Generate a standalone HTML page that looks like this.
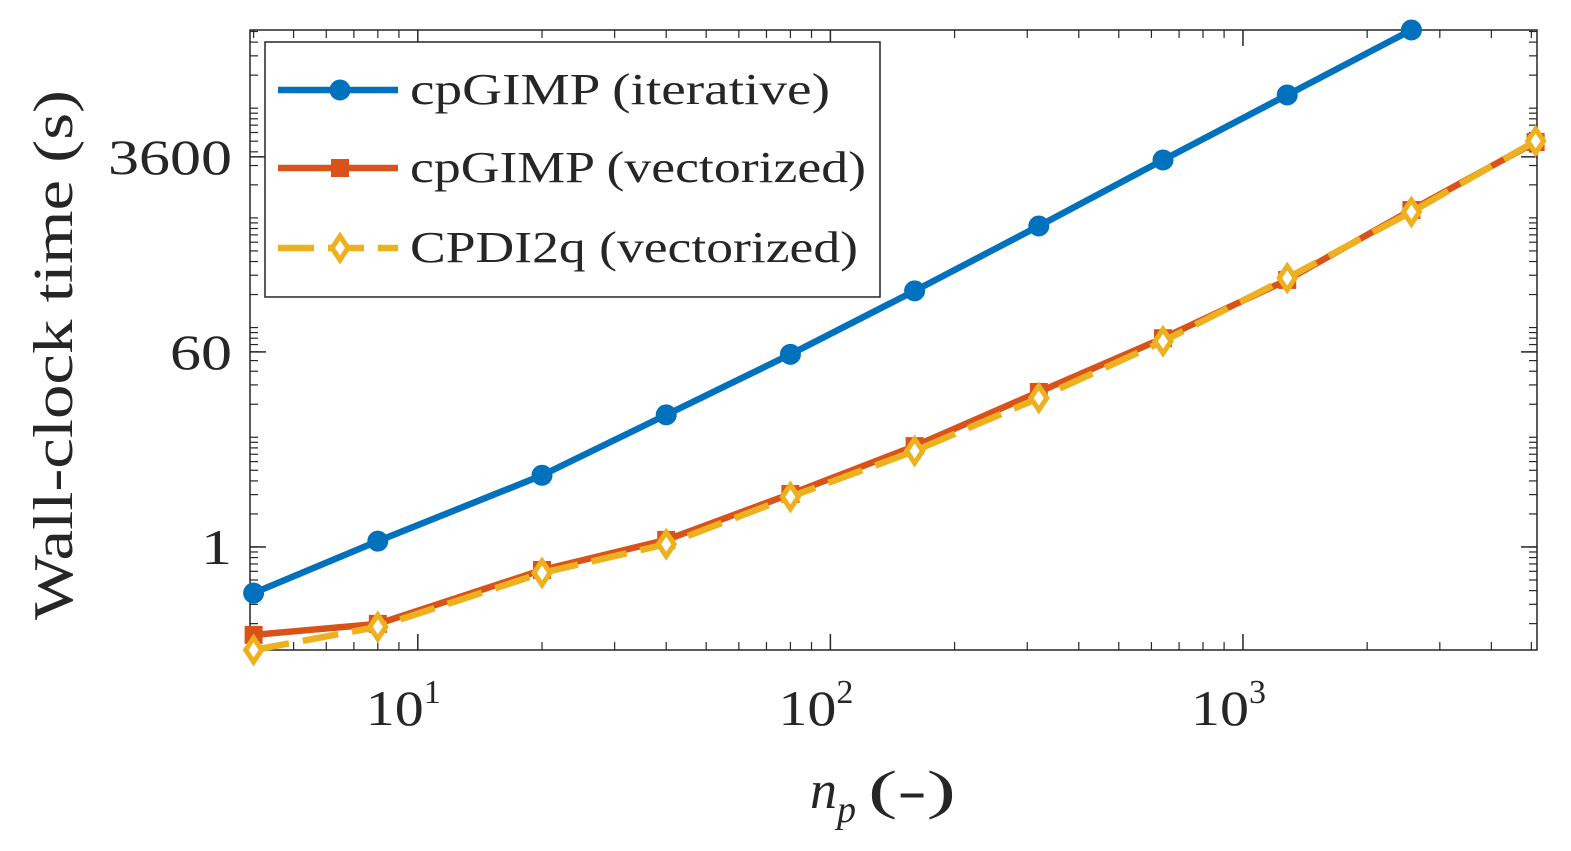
<!DOCTYPE html>
<html><head><meta charset="utf-8"><style>
body{margin:0;background:#fff}
svg text{font-family:"Liberation Serif",serif;fill:#262626}
</style></head><body>
<svg id="chart" width="1571" height="846" xmlns="http://www.w3.org/2000/svg"></svg>
<script>
const npValues=[4,8,20,40,80,160,320,640,1280,2560,5120];
const iterTimes=[0.38,1.13,4.5,16,57,216,843,3370,13200,51600];
const vecTimes=[0.158,0.199,0.617,1.16,3.04,8.3,25.9,80,272,1180,4920];
const cpdiTimes=[0.115,0.187,0.58,1.06,2.86,7.5,22.8,75,283,1132,5020];
const xTickVals=[10,100,1000];
const xTickLabels=["1","2","3"];
const yTickVals=[1,60,3600];
const yTickLabels=["1","60","3600"];
const NS="http://www.w3.org/2000/svg";
const svg=document.getElementById('chart');
const L=250,R=1537,T=30,B=650;
const xmin=Math.log10(3.92),xmax=Math.log10(5160);
const ymin=Math.log10(0.115),ymax=Math.log10(51600);
const X=v=>L+(Math.log10(v)-xmin)/(xmax-xmin)*(R-L);
const Y=v=>B-(Math.log10(v)-ymin)/(ymax-ymin)*(B-T);
function el(tag,attrs,parent){const e=document.createElementNS(NS,tag);for(const k in attrs)e.setAttribute(k,attrs[k]);(parent||svg).appendChild(e);return e;}
const box=el('rect',{x:L,y:T,width:R-L,height:B-T,fill:'none',stroke:'#262626','stroke-width':1.5});


for(let p=0;p<=4;p++){for(let m=2;m<=9;m++){const v=m*Math.pow(10,p);if(v<3.92||v>5160)continue;const x=X(v);
el('line',{x1:x,x2:x,y1:B,y2:B-8,stroke:'#262626','stroke-width':1.2});el('line',{x1:x,x2:x,y1:T,y2:T+8,stroke:'#262626','stroke-width':1.2});}}
for(let p=-1;p<=4;p++){for(let m=1;m<=9;m++){const v=m*Math.pow(10,p);if(v<0.115||v>51600)continue;const y=Y(v);
el('line',{x1:L,x2:L+8,y1:y,y2:y,stroke:'#262626','stroke-width':1.2});el('line',{x1:R,x2:R-8,y1:y,y2:y,stroke:'#262626','stroke-width':1.2});}}
xTickVals.forEach((v,i)=>{const x=X(v);
el('line',{x1:x,x2:x,y1:B,y2:B-16,stroke:'#262626','stroke-width':1.5});el('line',{x1:x,x2:x,y1:T,y2:T+16,stroke:'#262626','stroke-width':1.5});
const t=el('text',{x:x-52,y:725,'font-size':50});
const a=el('tspan',{textLength:58,lengthAdjust:'spacingAndGlyphs'},t);a.textContent='10';
const s=el('tspan',{dy:-22,'font-size':34},t);s.textContent=xTickLabels[i];

});
yTickVals.forEach((v,i)=>{const y=Y(v);
el('line',{x1:L,x2:L+16,y1:y,y2:y,stroke:'#262626','stroke-width':1.5});el('line',{x1:R,x2:R-16,y1:y,y2:y,stroke:'#262626','stroke-width':1.5});
const len=yTickLabels[i].length*31;
const t=el('text',{x:232-len,y:y+17,'font-size':50,textLength:len,lengthAdjust:'spacingAndGlyphs'});t.textContent=yTickLabels[i];

});
const xl=el('text',{x:810,y:808,'font-size':54});xl.innerHTML='<tspan font-style="italic">n</tspan><tspan font-style="italic" font-size="38" dy="14">p</tspan><tspan dy="-14" dx="12" textLength="88" lengthAdjust="spacingAndGlyphs">(-)</tspan>';


const yl=el('text',{x:-620,y:72,'font-size':56,transform:'rotate(-90)',textLength:530,lengthAdjust:'spacingAndGlyphs'});yl.textContent='Wall-clock time (s)';


function series(vals,color,dash,marker,name){
const g=el('g',{});


const pts=vals.map((v,i)=>X(npValues[i])+','+Y(v)).join(' ');
el('polyline',{points:pts,fill:'none',stroke:color,'stroke-width':6.5,'stroke-dasharray':dash||'none'},g);
vals.forEach((v,i)=>drawMarker(g,X(npValues[i]),Y(v),color,marker));}
function drawMarker(g,x,y,color,marker){let m;
if(marker==='o')m=el('circle',{cx:x,cy:y,r:9,fill:color,stroke:color,'stroke-width':3},g);
else if(marker==='s')m=el('rect',{x:x-9,y:y-9,width:18,height:18,fill:color},g);
else m=el('polygon',{points:`${x},${y-12} ${x+8},${y} ${x},${y+12} ${x-8},${y}`,fill:'#fff',stroke:color,'stroke-width':5},g);

}
series(iterTimes,'#0072BD',null,'o','series-iterative');
series(vecTimes,'#D95319',null,'s','series-vectorized');
series(cpdiTimes,'#EDB120','36 14','d','series-cpdi2q');
const lg=el('g',{});


el('rect',{x:265,y:42,width:615,height:255,fill:'#fff',stroke:'#262626','stroke-width':1.5},lg);
const entries=[['cpGIMP (iterative)','#0072BD',null,'o',90,420],['cpGIMP (vectorized)','#D95319',null,'s',168,456],['CPDI2q (vectorized)','#EDB120','36 14','d',248,448]];
entries.forEach(e=>{const g=el('g',{},lg);


el('line',{x1:278,x2:398,y1:e[4],y2:e[4],stroke:e[1],'stroke-width':6.5,'stroke-dasharray':e[2]||'none'},g);
drawMarker(g,340,e[4],e[1],e[3]);
const t=el('text',{x:410,y:e[4]+14,'font-size':44,textLength:e[5],lengthAdjust:'spacingAndGlyphs'},g);t.textContent=e[0];});
</script>
</body></html>
